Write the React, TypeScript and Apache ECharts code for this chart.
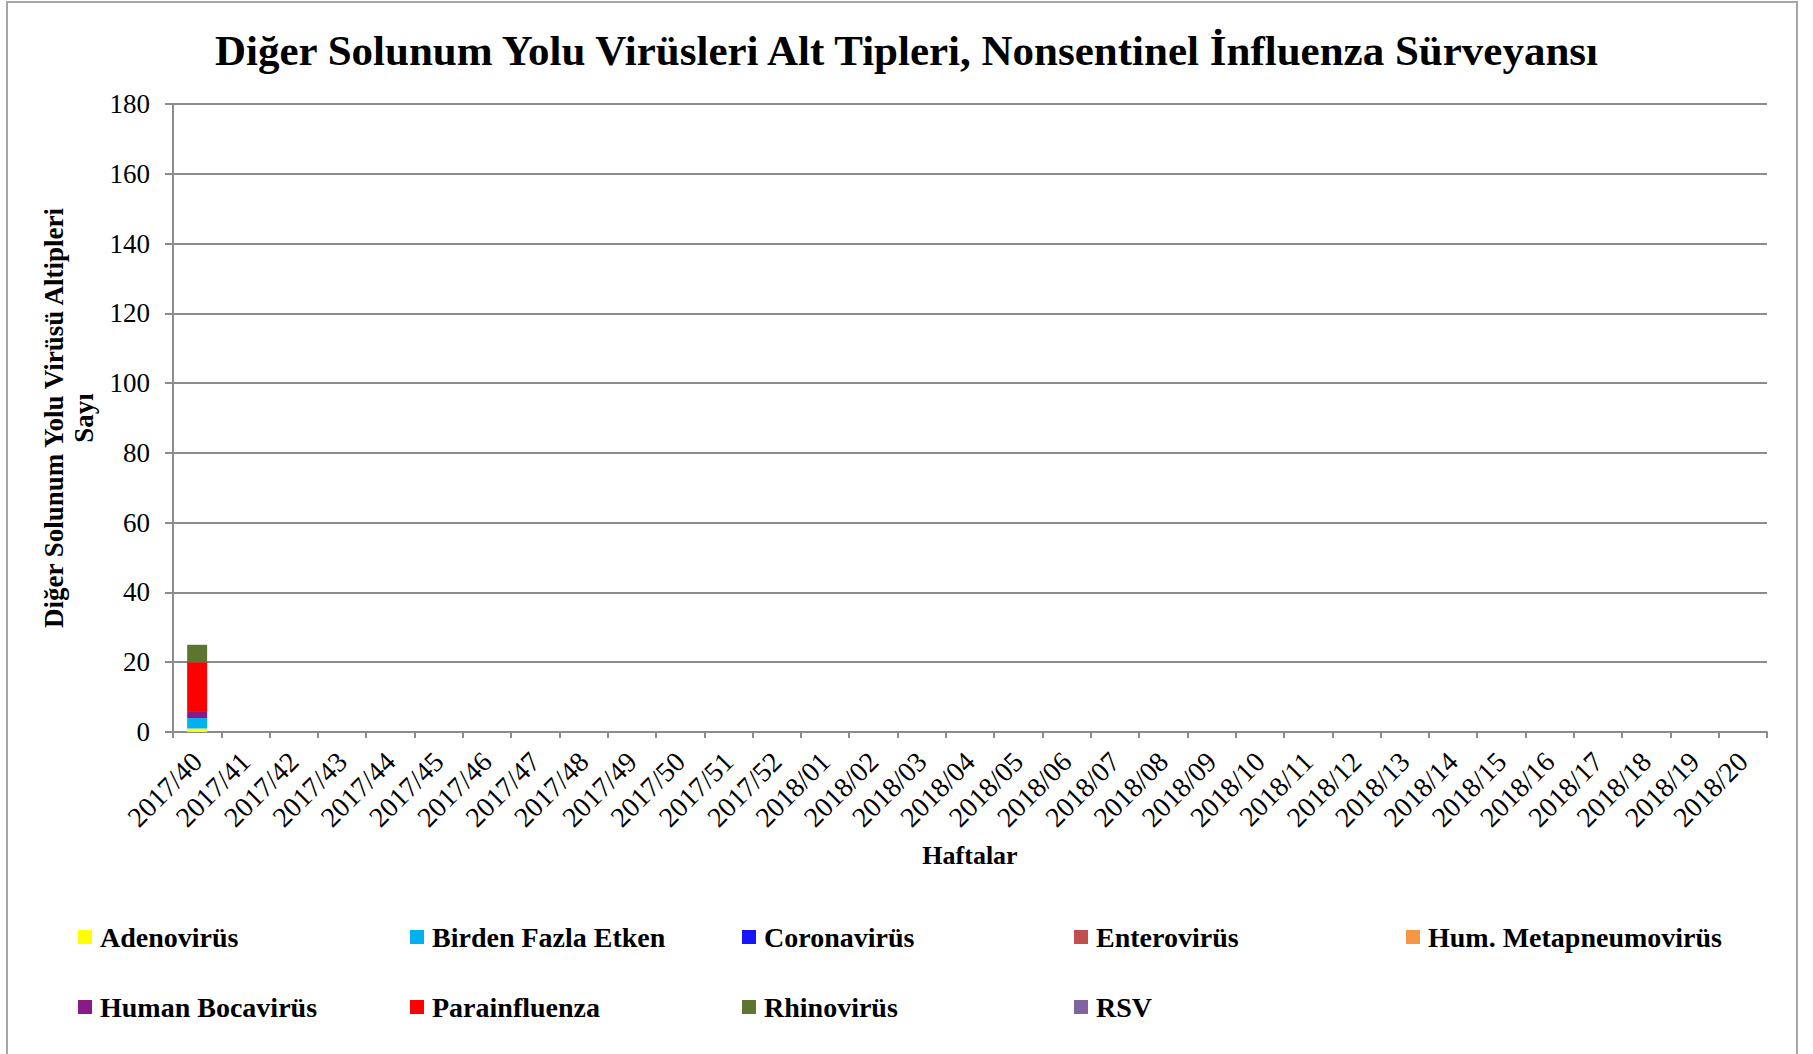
import React, { useEffect, useRef } from "react";
import * as echarts from "echarts";

const weeks = [
  "2017/40", "2017/41", "2017/42", "2017/43", "2017/44", "2017/45", "2017/46",
  "2017/47", "2017/48", "2017/49", "2017/50", "2017/51", "2017/52",
  "2018/01", "2018/02", "2018/03", "2018/04", "2018/05", "2018/06", "2018/07",
  "2018/08", "2018/09", "2018/10", "2018/11", "2018/12", "2018/13", "2018/14",
  "2018/15", "2018/16", "2018/17", "2018/18", "2018/19", "2018/20",
];

const adenovirus = [1, 0, 0, 0, 0, 0, 0, 0, 0, 0, 0, 0, 0, 0, 0, 0, 0, 0, 0, 0, 0, 0, 0, 0, 0, 0, 0, 0, 0, 0, 0, 0, 0];
const birdenFazla = [3, 0, 0, 0, 0, 0, 0, 0, 0, 0, 0, 0, 0, 0, 0, 0, 0, 0, 0, 0, 0, 0, 0, 0, 0, 0, 0, 0, 0, 0, 0, 0, 0];
const coronavirus = [0, 0, 0, 0, 0, 0, 0, 0, 0, 0, 0, 0, 0, 0, 0, 0, 0, 0, 0, 0, 0, 0, 0, 0, 0, 0, 0, 0, 0, 0, 0, 0, 0];
const enterovirus = [0, 0, 0, 0, 0, 0, 0, 0, 0, 0, 0, 0, 0, 0, 0, 0, 0, 0, 0, 0, 0, 0, 0, 0, 0, 0, 0, 0, 0, 0, 0, 0, 0];
const metapneumo = [0, 0, 0, 0, 0, 0, 0, 0, 0, 0, 0, 0, 0, 0, 0, 0, 0, 0, 0, 0, 0, 0, 0, 0, 0, 0, 0, 0, 0, 0, 0, 0, 0];
const bocavirus = [2, 0, 0, 0, 0, 0, 0, 0, 0, 0, 0, 0, 0, 0, 0, 0, 0, 0, 0, 0, 0, 0, 0, 0, 0, 0, 0, 0, 0, 0, 0, 0, 0];
const parainfluenza = [14, 0, 0, 0, 0, 0, 0, 0, 0, 0, 0, 0, 0, 0, 0, 0, 0, 0, 0, 0, 0, 0, 0, 0, 0, 0, 0, 0, 0, 0, 0, 0, 0];
const rhinovirus = [5, 0, 0, 0, 0, 0, 0, 0, 0, 0, 0, 0, 0, 0, 0, 0, 0, 0, 0, 0, 0, 0, 0, 0, 0, 0, 0, 0, 0, 0, 0, 0, 0];
const rsv = [0, 0, 0, 0, 0, 0, 0, 0, 0, 0, 0, 0, 0, 0, 0, 0, 0, 0, 0, 0, 0, 0, 0, 0, 0, 0, 0, 0, 0, 0, 0, 0, 0];

const seriesNames = [
  "Adenovirüs", "Birden Fazla Etken", "Coronavirüs", "Enterovirüs",
  "Hum. Metapneumovirüs", "Human Bocavirüs", "Parainfluenza", "Rhinovirüs", "RSV",
];
const seriesData = [
  adenovirus, birdenFazla, coronavirus, enterovirus, metapneumo,
  bocavirus, parainfluenza, rhinovirus, rsv,
];
const seriesColors = [
  "#FFFF00", "#00B0F0", "#1515FF", "#C0504D", "#F79646",
  "#8B1A89", "#FF0000", "#5E7532", "#8064A2",
];

const FONT = "'Liberation Serif', 'Times New Roman', serif";

export default function App() {
  const ref = useRef<HTMLDivElement>(null);
  useEffect(() => {
    document.body.style.margin = "0";
    const chart = echarts.init(ref.current!, null, { renderer: "svg" });
    chart.setOption({
      animation: false,
      backgroundColor: "#ffffff",
      title: {
        text: "Diğer Solunum Yolu Virüsleri Alt Tipleri, Nonsentinel İnfluenza Sürveyansı",
        left: "center",
        top: 24,
        textStyle: { fontFamily: FONT, fontSize: 43, fontWeight: "bold", color: "#000" },
      },
      graphic: [
        {
          type: "rect",
          shape: { x: 7, y: 2, width: 1790, height: 1100 },
          style: { fill: "none", stroke: "#a6a6a6", lineWidth: 2 },
          silent: true,
        },
      ],
      legend: {
        left: 73,
        top: 918,
        width: 1710,
        itemWidth: 14,
        itemHeight: 14,
        itemGap: 42,
        icon: "rect",
        data: seriesNames,
        textStyle: {
          fontFamily: FONT,
          fontSize: 28,
          fontWeight: "bold",
          color: "#000",
          width: 268,
          lineHeight: 28,
          padding: [0, 0, 0, 3],
        },
      },
      grid: { left: 173, right: 46, top: 104, bottom: 322, containLabel: false },
      xAxis: {
        type: "category",
        data: weeks,
        name: "Haftalar",
        nameLocation: "middle",
        nameGap: 110,
        nameTextStyle: { fontFamily: FONT, fontSize: 26, fontWeight: "bold", color: "#000" },
        axisLine: { lineStyle: { color: "#8c8c8c", width: 2 } },
        axisTick: { show: true, length: 6, lineStyle: { color: "#8c8c8c", width: 2 }, alignWithLabel: false },
        axisLabel: {
          interval: 0,
          rotate: 45,
          margin: 25,
          fontFamily: FONT,
          fontSize: 28,
          color: "#000",
        },
      },
      yAxis: {
        type: "value",
        min: 0,
        max: 180,
        interval: 20,
        name: "Diğer Solunum Yolu Virüsü Altipleri\nSayı",
        nameLocation: "middle",
        nameGap: 72,
        nameRotate: 90,
        nameTextStyle: {
          fontFamily: FONT,
          fontSize: 27,
          fontWeight: "bold",
          color: "#000",
          lineHeight: 30,
        },
        axisLine: { show: true, lineStyle: { color: "#8c8c8c", width: 2 } },
        axisTick: { show: true, length: 8, lineStyle: { color: "#8c8c8c", width: 2 } },
        splitLine: { lineStyle: { color: "#8c8c8c", width: 2 } },
        axisLabel: { margin: 23, fontFamily: FONT, fontSize: 27, color: "#000" },
      },
      series: seriesNames.map((name, i) => ({
        name,
        type: "bar",
        stack: "total",
        barWidth: 20,
        data: seriesData[i],
        itemStyle: { color: seriesColors[i] },
      })),
    });
    return () => chart.dispose();
  }, []);
  return <div ref={ref} style={{ width: 1813, height: 1054 }} />;
}
